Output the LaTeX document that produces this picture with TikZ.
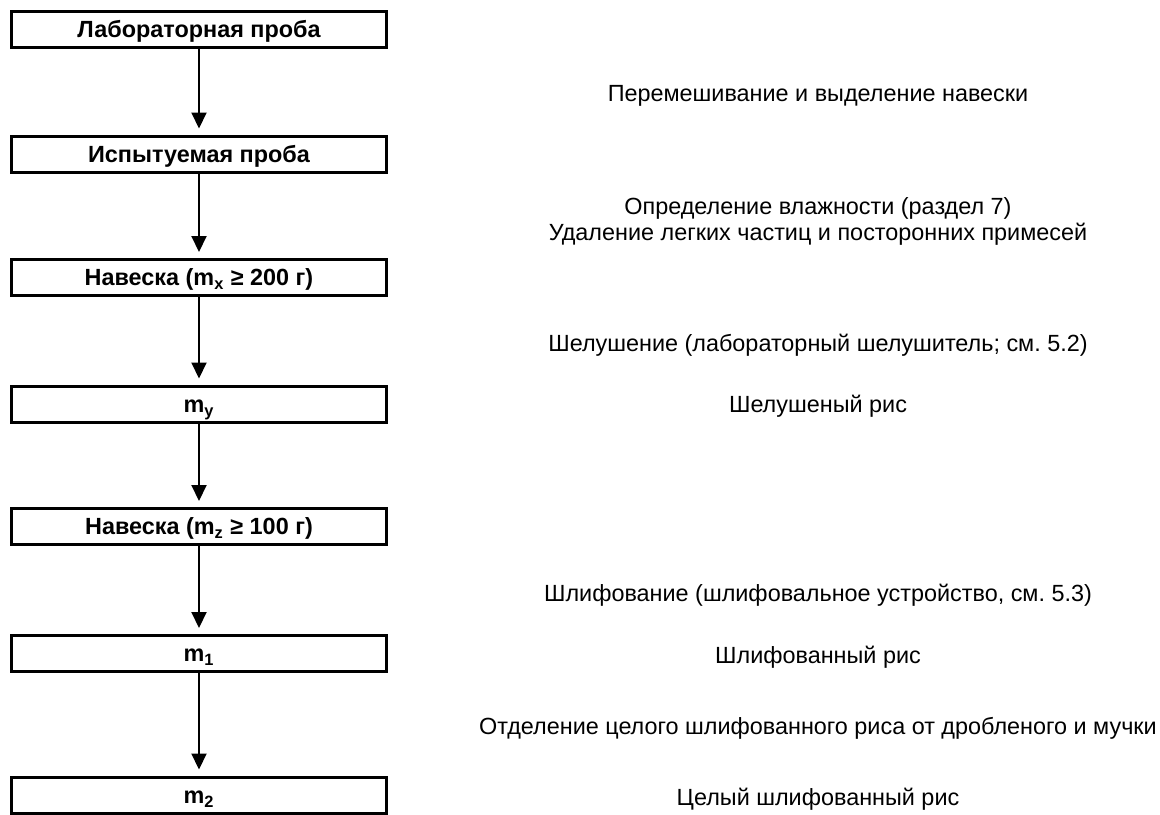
\documentclass[tikz,border=0pt]{standalone}
\usepackage{fontspec}
\setmainfont{Liberation Sans}
\usetikzlibrary{arrows.meta, positioning}
\frenchspacing

\tikzset{
  probebox/.style={draw, line width=1.5pt, minimum width=187.5pt, minimum height=18pt, inner sep=0pt, text height=8.4pt, text depth=0pt, font=\fontsize{11.7}{13}\selectfont\bfseries},
  opnote/.style={font=\fontsize{11.7}{13}\selectfont, align=center, text height=8.4pt, text depth=0pt},
  flow/.style={-{Triangle[width=7.5pt,length=8pt]}, line width=1pt, shorten >=3pt}
}

\begin{document}
\begin{tikzpicture}[x=0.5pt, y=-0.5pt]
    \useasboundingbox (0,0) rectangle (1160,814);

    % Sample chain (left column)
    \node[probebox] (lab) at (199,29) {Лабораторная проба};
    \node[probebox] (test) at (199,154) {Испытуемая проба};
    \node[probebox] (mx) at (199,277.5) {Навеска (m\textsubscript{x} ≥ 200 г)};
    \node[probebox] (my) at (199,404) {m\textsubscript{y}};
    \node[probebox] (mz) at (199,526.5) {Навеска (m\textsubscript{z} ≥ 100 г)};
    \node[probebox] (mone) at (199,653.5) {m\textsubscript{1}};
    \node[probebox] (mtwo) at (199,795) {m\textsubscript{2}};

    % Operations (right column)
    \node[opnote] (mixing) at (818,93) {Перемешивание и выделение навески};
    \node[opnote, text height=21.4pt] (moisture) at (818,219) {Определение влажности (раздел 7)\\Удаление легких частиц и посторонних примесей};
    \node[opnote] (husking) at (818,343) {Шелушение (лабораторный шелушитель; см. 5.2)};
    \node[opnote] (huskedrice) at (818,404) {Шелушеный рис};
    \node[opnote] (milling) at (818,593) {Шлифование (шлифовальное устройство, см. 5.3)};
    \node[opnote] (milledrice) at (818,655) {Шлифованный рис};
    \node[opnote] (sorting) at (818,726) {Отделение целого шлифованного риса от дробленого и мучки};
    \node[opnote] (wholerice) at (818,797) {Целый шлифованный рис};

    % Arrows
    \draw[flow] (lab) -- (test);
    \draw[flow] (test) -- (mx);
    \draw[flow] (mx) -- (my);
    \draw[flow] (my) -- (mz);
    \draw[flow] (mz) -- (mone);
    \draw[flow] (mone) -- (mtwo);

\end{tikzpicture}
\end{document}
